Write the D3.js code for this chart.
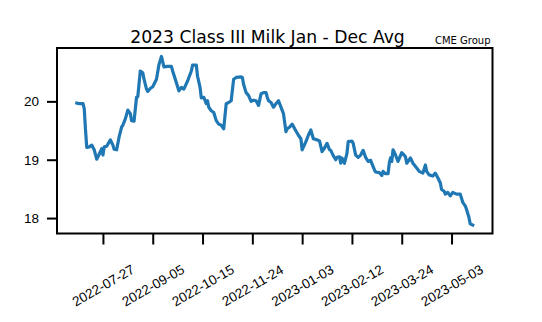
<!DOCTYPE html>
<html>
<head>
<meta charset="utf-8">
<script src="https://cdn.jsdelivr.net/npm/d3@7"></script>
<style>
  html, body { margin: 0; padding: 0; background: #fff; }
  svg { display: block; font-family: "DejaVu Sans", sans-serif; }
</style>
</head>
<body>
<svg id="chart" width="542" height="322"></svg>
<script>
// Settlement dates and prices (USD/cwt) for the 2023 Jan-Dec Class III strip
const dates = [
  "2022-07-06","2022-07-08","2022-07-11","2022-07-12","2022-07-13","2022-07-14","2022-07-16","2022-07-18","2022-07-20","2022-07-22",
  "2022-07-23","2022-07-25","2022-07-26","2022-07-27","2022-07-28","2022-07-30","2022-08-02","2022-08-04","2022-08-05","2022-08-07",
  "2022-08-09","2022-08-11","2022-08-12","2022-08-14","2022-08-16","2022-08-18","2022-08-19","2022-08-21","2022-08-23","2022-08-24",
  "2022-08-26","2022-08-28","2022-08-29","2022-08-31","2022-09-01","2022-09-03","2022-09-05","2022-09-08","2022-09-10","2022-09-12",
  "2022-09-14","2022-09-17","2022-09-20","2022-09-21","2022-09-24","2022-09-26","2022-09-28","2022-09-30","2022-10-03","2022-10-06",
  "2022-10-07","2022-10-10","2022-10-11","2022-10-13","2022-10-14","2022-10-16","2022-10-18","2022-10-19","2022-10-20","2022-10-22",
  "2022-10-24","2022-10-26","2022-10-28","2022-10-30","2022-11-01","2022-11-03","2022-11-05","2022-11-07","2022-11-09","2022-11-11",
  "2022-11-15","2022-11-16","2022-11-17","2022-11-19","2022-11-21","2022-11-23","2022-11-25","2022-11-27","2022-11-29","2022-12-01",
  "2022-12-03","2022-12-05","2022-12-06","2022-12-07","2022-12-09","2022-12-11","2022-12-13","2022-12-15","2022-12-17","2022-12-19",
  "2022-12-21","2022-12-22","2022-12-24","2022-12-26","2022-12-28","2022-12-31","2023-01-02","2023-01-03","2023-01-06","2023-01-08",
  "2023-01-10","2023-01-12","2023-01-15","2023-01-17","2023-01-19","2023-01-21","2023-01-23","2023-01-25","2023-01-26","2023-01-28",
  "2023-01-30","2023-01-31","2023-02-02","2023-02-03","2023-02-04","2023-02-06","2023-02-08","2023-02-09","2023-02-12","2023-02-13",
  "2023-02-15","2023-02-17","2023-02-19","2023-02-21","2023-02-23","2023-02-25","2023-02-27","2023-03-02","2023-03-03","2023-03-06",
  "2023-03-08","2023-03-09","2023-03-11","2023-03-13","2023-03-14","2023-03-15","2023-03-16","2023-03-17","2023-03-19","2023-03-21",
  "2023-03-24","2023-03-25","2023-03-27","2023-03-28","2023-03-31","2023-04-02","2023-04-05","2023-04-07","2023-04-10","2023-04-12",
  "2023-04-13","2023-04-15","2023-04-18","2023-04-20","2023-04-22","2023-04-24","2023-04-25","2023-04-27","2023-04-28","2023-04-30",
  "2023-05-02","2023-05-04","2023-05-07","2023-05-10","2023-05-12","2023-05-14","2023-05-15","2023-05-17","2023-05-18","2023-05-20"
];
const prices = [
  19.97,19.96,19.96,19.87,19.51,19.21,19.22,19.25,19.17,19.01,
  19.05,19.14,19.19,19.08,19.22,19.23,19.34,19.25,19.18,19.17,
  19.39,19.56,19.59,19.70,19.85,19.79,19.67,19.66,20.07,20.08,
  20.52,20.49,20.38,20.21,20.17,20.22,20.25,20.38,20.63,20.77,
  20.59,20.60,20.60,20.52,20.32,20.18,20.24,20.21,20.35,20.52,
  20.62,20.62,20.43,20.24,20.06,20.07,19.96,20.01,19.90,19.84,
  19.81,19.67,19.61,19.59,19.53,19.96,19.98,20.01,20.38,20.41,
  20.42,20.41,20.29,20.15,20.10,20.00,20.02,20.01,19.93,20.13,
  20.15,20.15,20.07,20.01,19.98,19.90,19.96,20.01,19.90,19.79,
  19.48,19.53,19.56,19.61,19.53,19.42,19.36,19.17,19.31,19.42,
  19.51,19.36,19.34,19.32,19.14,19.20,19.28,19.17,19.16,19.07,
  19.00,19.04,19.05,18.94,19.03,18.94,19.11,19.31,19.32,19.28,
  19.08,19.04,19.08,19.16,19.04,18.97,18.99,18.83,18.79,18.78,
  18.73,18.80,18.76,18.76,18.94,19.03,18.97,19.17,19.08,18.97,
  19.12,19.10,19.05,18.94,19.03,18.94,18.86,18.80,18.77,18.91,
  18.80,18.74,18.72,18.77,18.69,18.60,18.49,18.46,18.41,18.44,
  18.38,18.44,18.41,18.41,18.27,18.21,18.15,18.01,17.90,17.88
];
const xTickLabels = ["2022-07-27","2022-09-05","2022-10-15","2022-11-24","2023-01-03","2023-02-12","2023-03-24","2023-05-03"];
const yTickValues = [18, 19, 20];
const titleText = "2023 Class III Milk Jan - Dec Avg";
const sourceText = "CME Group";

const parse = d3.utcParse("%Y-%m-%d");
const series = dates.map((d, i) => ({ date: parse(d), value: prices[i] }));

const svg = d3.select("#chart");
const box = { left: 57, right: 492.5, top: 48, bottom: 233.5 };

// 5% padding around the data extent on both axes
function padded(ext) {
  const span = ext[1] - ext[0];
  return [ext[0] - span * 0.05, ext[1] + span * 0.05];
}
const tExt = d3.extent(series, d => +d.date);
const tDom = padded(tExt).map(t => new Date(t));
const x = d3.scaleUtc().domain(tDom).range([box.left, box.right]);
const y = d3.scaleLinear().domain(padded(d3.extent(series, d => d.value))).range([box.bottom, box.top]);

// Line
const line = d3.line().x(d => x(d.date)).y(d => y(d.value));
svg.append("path")
  .datum(series)
  .attr("fill", "none")
  .attr("stroke", "#1f77b4")
  .attr("stroke-width", 3.2)
  .attr("stroke-linejoin", "round")
  .attr("stroke-linecap", "square")
  .attr("d", line);

// Frame
svg.append("rect")
  .attr("x", box.left).attr("y", box.top)
  .attr("width", box.right - box.left).attr("height", box.bottom - box.top)
  .attr("fill", "none").attr("stroke", "#000").attr("stroke-width", 2);

// X axis
const xAxis = d3.axisBottom(x)
  .tickValues(xTickLabels.map(parse))
  .tickSize(11)
  .tickSizeOuter(0)
  .tickFormat(d3.utcFormat("%Y-%m-%d"));
const gx = svg.append("g").attr("transform", `translate(0,${box.bottom})`).call(xAxis);
gx.select(".domain").remove();
gx.selectAll(".tick line").attr("stroke", "#000").attr("stroke-width", 2);
gx.selectAll(".tick text")
  .attr("fill", "#000")
  .attr("font-size", 13.5)
  .attr("text-anchor", "middle")
  .attr("dominant-baseline", "central")
  .attr("y", 0).attr("dy", null)
  .attr("transform", "translate(0,52) rotate(-30)");

// Y axis
const yAxis = d3.axisLeft(y)
  .tickValues(yTickValues)
  .tickSize(10)
  .tickSizeOuter(0)
  .tickPadding(8)
  .tickFormat(d3.format("d"));
const gy = svg.append("g").attr("transform", `translate(${box.left},0)`).call(yAxis);
gy.select(".domain").remove();
gy.selectAll(".tick line").attr("stroke", "#000").attr("stroke-width", 2);
gy.selectAll(".tick text").attr("fill", "#000").attr("font-size", 13.5);

// Title and source
svg.append("text")
  .attr("x", 267.5).attr("y", 42.5)
  .attr("text-anchor", "middle")
  .attr("font-size", 17.2)
  .attr("fill", "#000")
  .text(titleText);
svg.append("text")
  .attr("x", 490.5).attr("y", 44)
  .attr("text-anchor", "end")
  .attr("font-size", 10)
  .attr("fill", "#000")
  .text(sourceText);
</script>
</body>
</html>
